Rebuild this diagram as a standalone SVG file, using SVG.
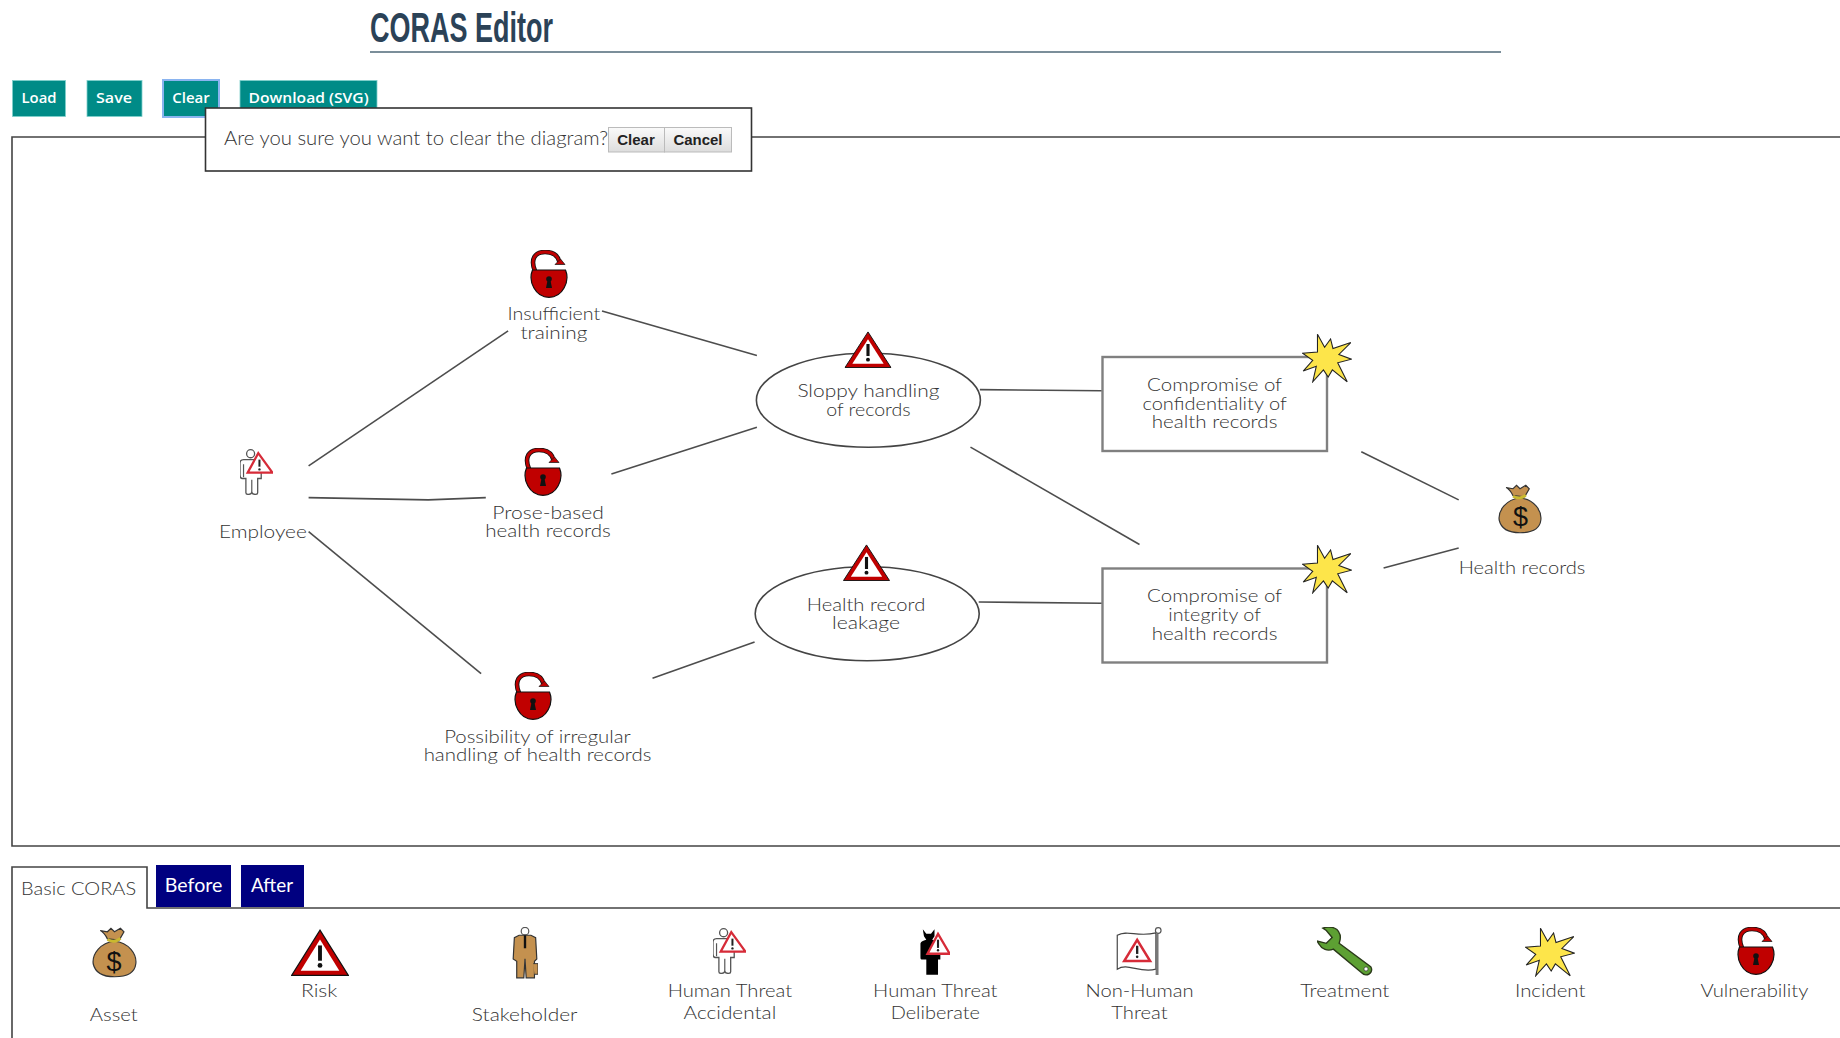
<svg xmlns="http://www.w3.org/2000/svg" width="1840" height="1038" viewBox="0 0 1840 1038">
<style>
text{font-family:"Lato","Open Sans","Liberation Sans",sans-serif;font-size:18.500px;fill:#333;text-anchor:middle;font-weight:300}
.frame{fill:none;stroke:#444;stroke-width:1.6}
.conn{fill:none;stroke:#4d4d4d;stroke-width:1.6}
.oval{fill:#fff;stroke:#444;stroke-width:1.6}
.box{fill:#fff;stroke:#808080;stroke-width:2.4}
.btn{fill:#008b87;stroke:#7fd0cc;stroke-width:.8}
.btxt{font-family:"Open Sans","Liberation Sans",sans-serif;font-size:15px;font-weight:600;fill:#fff}
.dbtn{fill:url(#g);stroke:#bbb;stroke-width:1}
.dtxt{font-family:"Liberation Sans",sans-serif;font-size:14.500px;font-weight:700;fill:#222}
.tab{fill:#000080}
.ttxt{fill:#fff;font-size:19.500px;font-weight:400}
.usd{font-family:"Liberation Sans",sans-serif;font-size:27px;fill:#111;font-weight:400}
</style>
<defs>
<linearGradient id="g" x1="0" y1="0" x2="0" y2="1"><stop offset="0" stop-color="#fafafa"/><stop offset="1" stop-color="#ddd"/></linearGradient>
<symbol id="lock" viewBox="0 0 38 48">
<path d="M5 21C0 9 5 2 15 2 23 2 28 6 29.500 12" fill="none" stroke="#111" stroke-width="4.600"/>
<path d="M5 21C0 9 5 2 15 2 23 2 28 6 29.500 12" fill="none" stroke="#c00000" stroke-width="2.800"/>
<path d="M25 14.500L35 14.500 30.500 9Z" fill="#c00000" stroke="#111" stroke-width=".7"/>
<path d="M2.500 20H35.500C40 31 33 47.300 19 47.300 5 47.300-2 31 2.500 20Z" fill="#c00000" stroke="#111" stroke-width="1.200"/>
<circle cx="19" cy="29" r="2.800" fill="#111"/><path d="M17.600 30H20.400L22 38H16Z" fill="#111"/>
</symbol>
<symbol id="risk" viewBox="0 0 48 40" preserveAspectRatio="none">
<path d="M24 1L47.500 39.500H.5Z" fill="#c00000" stroke="#111" stroke-width="1"/>
<path d="M24 9L40 35.500H8Z" fill="#fff"/>
<path d="M24 14V27" stroke="#111" stroke-width="3.200" fill="none"/><circle cx="24" cy="31" r="2" fill="#111"/>
</symbol>
<symbol id="incident" viewBox="0 0 42 42">
<path d="M13 1L19 12 24 5 26 13 41 8 31 18 41.500 22 30 25 38 41 25.500 31 22 37 18 31 9 41 12 28 1 32 9 23 .5 17 13 16Z" fill="#fde54a" stroke="#222" stroke-width=".9"/>
</symbol>
<symbol id="bag" viewBox="0 0 38 43">
<path d="M19 12C7 13 0 23 1 31 3 40 12 42 19 42 27 42 36 40 37 31 38 23 31 13 19 12Z" fill="#c4914f" stroke="#333" stroke-width="1"/>
<path d="M13 10C11 6 9 4 7 3L13 4 16 1 19 4 24 1 27 4 23 11Z" fill="#c4914f" stroke="#333" stroke-width="1"/>
<path d="M13 10.500C17 12.500 21 12.500 24 9.500" fill="none" stroke="#c9b92f" stroke-width="2.400"/>
</symbol>
<symbol id="person" viewBox="0 0 28 39">
<circle cx="9" cy="4" r="3.400" fill="#fff" stroke="#555" stroke-width="1.100"/>
<path d="M3 9H15C17 9 18 11 18 14V25H15V37C15 39 11 39 10 37 9 39 5 39 5 37V25H2C1 25 0 24 0 22V12C0 10 1 9 3 9Z" fill="#fff" stroke="#555" stroke-width="1.100"/>
<path d="M10 26V37M3 13V24" fill="none" stroke="#555" stroke-width="1"/>
<path d="M15.500 3.500L27.500 20H6.500Z" fill="#fff" stroke="#d62b38" stroke-width="1.900"/>
<path d="M16.500 9V15" stroke="#222" stroke-width="1.700"/><circle cx="16.500" cy="17.300" r="1" fill="#222"/>
</symbol>
<symbol id="devil" viewBox="0 0 26 41">
<path d="M3 1L6 5 10 5 13 1 13 7 11 10 16 11C18 12 18 14 18 18V27H16V40H6V27H2C1 27 1 26 1 24V14C1 12 2 11 6 10L4 7Z" fill="#000"/>
<path d="M16 5L26 22H7Z" fill="#fff" stroke="#d62b38" stroke-width="2"/>
<path d="M16 10V17" stroke="#222" stroke-width="1.800"/><circle cx="16" cy="19" r="1" fill="#222"/>
</symbol>
<symbol id="suit" viewBox="0 0 22 44">
<circle cx="11" cy="3.500" r="3.200" fill="#fff" stroke="#555" stroke-width="1"/>
<path d="M6 7H16L20 9 21 27 19 29V43H12L11 27 10 43H4V29L1 27 2 9Z" fill="#c4914f" stroke="#333" stroke-width="1"/>
<path d="M11 7V18" stroke="#111" stroke-width="2"/><path d="M18 31H22V40H19" fill="#c4914f" stroke="#333" stroke-width=".8"/>
</symbol>
<symbol id="flag" viewBox="0 0 40 41">
<path d="M1 7C10 2 18 9 34 5V36C20 40 10 30 1 36Z" fill="#fff" stroke="#444" stroke-width="1"/>
<path d="M35 6V41" stroke="#777" stroke-width="2.500"/><circle cx="36" cy="3" r="2.400" fill="#fff" stroke="#555"/>
<path d="M18 11L29 29H7Z" fill="#fff" stroke="#d62b38" stroke-width="2.200"/>
<path d="M18 16V23" stroke="#222" stroke-width="2"/><circle cx="18" cy="25.500" r="1.100" fill="#222"/>
</symbol>
<symbol id="wrench" viewBox="0 0 48 42">
<path d="M5 1C10-1 17 0 19 5 21 8 20 11 19 14L46 34C48 37 46 41 42 41 40 41 39 40 38 39L14 19C9 21 4 19 2 15L0 12 8 14 13 9 8 3Z" fill="#5da033" stroke="#2b3a1a" stroke-width="1.200"/>
<circle cx="42" cy="36" r="1.800" fill="#fff" stroke="#333" stroke-width=".6"/>
</symbol>
</defs>
<rect width="1840" height="1038" fill="#fff"/>
<g id="header">
<text x="461.500" y="41.500" textLength="183" lengthAdjust="spacingAndGlyphs" style="font-family:'Liberation Sans Narrow','Liberation Sans',sans-serif;font-size:42px;font-weight:700;fill:#2b4257">CORAS Editor</text>
<path d="M370 52H1501" fill="none" stroke="#4f6878" stroke-width="1.600"/>
</g>
<g id="toolbar">
<rect class="btn" x="12.500" y="80.500" width="53" height="36"/><text class="btxt" x="39" y="103" textLength="35" lengthAdjust="spacingAndGlyphs">Load</text>
<rect class="btn" x="87" y="80.500" width="55" height="36"/><text class="btxt" x="114" y="103" textLength="36" lengthAdjust="spacingAndGlyphs">Save</text>
<rect class="btn" x="163" y="80" width="56" height="37" style="stroke:#8ab4f0;stroke-width:2"/><text class="btxt" x="191" y="103" textLength="37.500" lengthAdjust="spacingAndGlyphs">Clear</text>
<rect class="btn" x="240" y="80.500" width="137" height="36"/><text class="btxt" x="308.600" y="103" textLength="120" lengthAdjust="spacingAndGlyphs">Download (SVG)</text>
</g>
<path id="canvas-frame" class="frame" d="M1840 137H12V846H1840"/>
<g id="connectors">
<path class="conn" d="M308.600 465.900L508.100 330.900"/>
<path class="conn" d="M308.600 497.600L428.300 499.900 485.800 497.600"/>
<path class="conn" d="M308.600 531.600L481.100 673.600"/>
<path class="conn" d="M602 311L756.900 355.600"/>
<path class="conn" d="M611.400 474.100L756.900 427.200"/>
<path class="conn" d="M652.500 678.300L754.600 641.900"/>
<path class="conn" d="M979.900 389.600L1101.900 390.800"/>
<path class="conn" d="M970.500 447.100L1139.500 544.500"/>
<path class="conn" d="M978.700 602L1101.900 603.200"/>
<path class="conn" d="M1361.300 451.800L1458.700 499.900"/>
<path class="conn" d="M1383.600 568L1458.700 548"/>
</g>
<g id="employee"><use href="#person" x="240" y="449" width="33" height="46"/><text x="262.900" y="537.500" textLength="88" lengthAdjust="spacingAndGlyphs">Employee</text></g>
<g id="insufficient-training"><use href="#lock" x="530" y="250" width="38" height="48"/><text x="553.900" y="320.400" textLength="92.700" lengthAdjust="spacingAndGlyphs">Insufficient</text><text x="553.900" y="338.800" textLength="66.900" lengthAdjust="spacingAndGlyphs">training</text></g>
<g id="prose-based"><use href="#lock" x="524" y="448" width="38" height="48"/><text x="548" y="518.700" textLength="111.500" lengthAdjust="spacingAndGlyphs">Prose-based</text><text x="548" y="537.300" textLength="125.600" lengthAdjust="spacingAndGlyphs">health records</text></g>
<g id="possibility"><use href="#lock" x="514" y="672" width="38" height="48"/><text x="537.500" y="742.800" textLength="186.600" lengthAdjust="spacingAndGlyphs">Possibility of irregular</text><text x="537.500" y="761.400" textLength="227.700" lengthAdjust="spacingAndGlyphs">handling of health records</text></g>
<g id="sloppy-handling"><ellipse class="oval" cx="868.400" cy="400.200" rx="112" ry="47"/><use href="#risk" x="844.500" y="331" width="47" height="37"/><text x="868.400" y="397" textLength="142" lengthAdjust="spacingAndGlyphs">Sloppy handling</text><text x="868.400" y="415.600" textLength="84.500" lengthAdjust="spacingAndGlyphs">of records</text></g>
<g id="health-record-leakage"><ellipse class="oval" cx="867.200" cy="613.700" rx="112" ry="47"/><use href="#risk" x="843" y="544" width="47" height="37"/><text x="866" y="610.800" textLength="118.500" lengthAdjust="spacingAndGlyphs">Health record</text><text x="866" y="629.400" textLength="68" lengthAdjust="spacingAndGlyphs">leakage</text></g>
<g id="compromise-confidentiality"><rect class="box" x="1102.500" y="357" width="224.500" height="94"/><use href="#incident" x="1302" y="333" width="50" height="50"/><text x="1214.600" y="391.200" textLength="135" lengthAdjust="spacingAndGlyphs">Compromise of</text><text x="1214.600" y="409.800" textLength="144.300" lengthAdjust="spacingAndGlyphs">confidentiality of</text><text x="1214.600" y="428.400" textLength="125.600" lengthAdjust="spacingAndGlyphs">health records</text></g>
<g id="compromise-integrity"><rect class="box" x="1102.500" y="568.500" width="224.500" height="94"/><use href="#incident" x="1302" y="544" width="50" height="50"/><text x="1214.600" y="602.400" textLength="135" lengthAdjust="spacingAndGlyphs">Compromise of</text><text x="1214.600" y="621" textLength="92.700" lengthAdjust="spacingAndGlyphs">integrity of</text><text x="1214.600" y="639.600" textLength="125.600" lengthAdjust="spacingAndGlyphs">health records</text></g>
<g id="health-records"><use href="#bag" x="1498" y="484" width="44" height="50"/><text class="usd" x="1520.500" y="526">$</text><text x="1522" y="573.500" textLength="126.700" lengthAdjust="spacingAndGlyphs">Health records</text></g>
<g id="dialog">
<rect x="205.500" y="108" width="546" height="63" fill="#fff" stroke="#333" stroke-width="1.600"/>
<text x="416" y="144.500" textLength="384" lengthAdjust="spacingAndGlyphs" style="font-size:19px">Are you sure you want to clear the diagram?</text>
<rect class="dbtn" x="608.500" y="127.500" width="56" height="24.500"/><text class="dtxt" x="636" y="144.500" textLength="37.500" lengthAdjust="spacingAndGlyphs">Clear</text>
<rect class="dbtn" x="664.500" y="127.500" width="67" height="24.500"/><text class="dtxt" x="698" y="144.500" textLength="49" lengthAdjust="spacingAndGlyphs">Cancel</text>
</g>
<g id="tabs">
<path class="frame" d="M12 1038V867H147V908H1840"/>
<text x="78.600" y="894.500" textLength="115" lengthAdjust="spacingAndGlyphs">Basic CORAS</text>
<rect class="tab" x="156" y="865" width="75" height="42"/><text class="ttxt" x="193.600" y="892" textLength="57.500" lengthAdjust="spacingAndGlyphs">Before</text>
<rect class="tab" x="241" y="865" width="63" height="42"/><text class="ttxt" x="272" y="892" textLength="42" lengthAdjust="spacingAndGlyphs">After</text>
</g>
<g id="palette-asset"><use href="#bag" x="92" y="927" width="45" height="51"/><text class="usd" x="114" y="971">$</text><text x="113.800" y="1021" textLength="48" lengthAdjust="spacingAndGlyphs">Asset</text></g>
<g id="palette-risk"><use href="#risk" x="291" y="929" width="58" height="47"/><text x="319.200" y="997" textLength="36.400" lengthAdjust="spacingAndGlyphs">Risk</text></g>
<g id="palette-stakeholder"><use href="#suit" x="512" y="927" width="26" height="52"/><text x="524.600" y="1021" textLength="105.600" lengthAdjust="spacingAndGlyphs">Stakeholder</text></g>
<g id="palette-human-accidental"><use href="#person" x="713" y="928" width="33" height="46"/><text x="729.900" y="997" textLength="124.400" lengthAdjust="spacingAndGlyphs">Human Threat</text><text x="729.900" y="1019.300" textLength="92.700" lengthAdjust="spacingAndGlyphs">Accidental</text></g>
<g id="palette-human-deliberate"><use href="#devil" x="919" y="928" width="31" height="48"/><text x="935.300" y="997" textLength="124.400" lengthAdjust="spacingAndGlyphs">Human Threat</text><text x="935.300" y="1019.300" textLength="89.200" lengthAdjust="spacingAndGlyphs">Deliberate</text></g>
<g id="palette-non-human"><use href="#flag" x="1116" y="927" width="47" height="48"/><text x="1139.500" y="997" textLength="108" lengthAdjust="spacingAndGlyphs">Non-Human</text><text x="1139.500" y="1019.300" textLength="56.300" lengthAdjust="spacingAndGlyphs">Threat</text></g>
<g id="palette-treatment"><use href="#wrench" x="1317" y="927" width="56" height="49"/><text x="1344.800" y="997" textLength="89.200" lengthAdjust="spacingAndGlyphs">Treatment</text></g>
<g id="palette-incident"><use href="#incident" x="1525" y="927" width="50" height="50"/><text x="1550.200" y="997" textLength="70.400" lengthAdjust="spacingAndGlyphs">Incident</text></g>
<g id="palette-vulnerability"><use href="#lock" x="1737" y="927" width="38" height="48"/><text x="1754.400" y="997" textLength="108" lengthAdjust="spacingAndGlyphs">Vulnerability</text></g>
</svg>
